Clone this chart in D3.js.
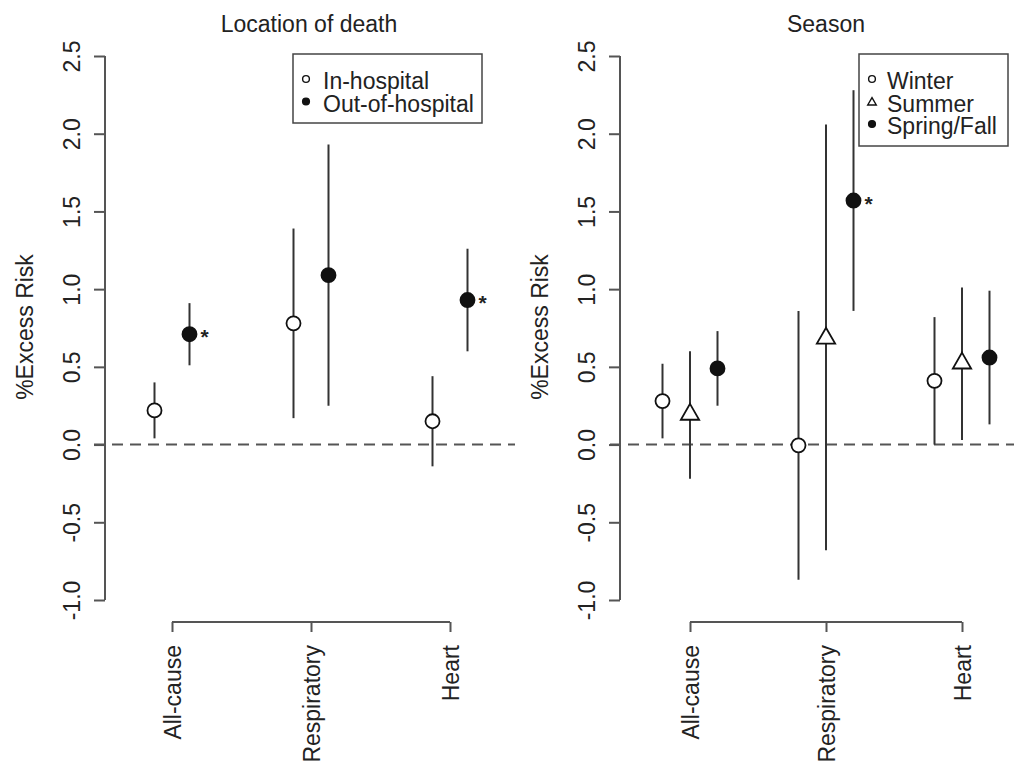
<!DOCTYPE html>
<html>
<head>
<meta charset="utf-8">
<script src="https://cdn.jsdelivr.net/npm/d3@7"></script>
<style>
  body { margin: 0; background: #fff; }
  text { font-family: "Liberation Sans", Arial, sans-serif; fill: #222; }
</style>
</head>
<body>
<div id="chart"></div>
<script>
// Datos
const categories = ["All-cause", "Respiratory", "Heart"];
const yTicks = [-1.0, -0.5, 0.0, 0.5, 1.0, 1.5, 2.0, 2.5];

// Panel 1: lugar de muerte
const locationGroups = ["In-hospital", "Out-of-hospital"];
const inHospEst = [0.22, 0.78, 0.15];
const inHospLo = [0.04, 0.17, -0.14];
const inHospHi = [0.40, 1.39, 0.44];
const outHospEst = [0.71, 1.09, 0.93];
const outHospLo = [0.51, 0.25, 0.60];
const outHospHi = [0.91, 1.93, 1.26];
const outHospSig = [true, false, true];

// Panel 2: estación
const seasonGroups = ["Winter", "Summer", "Spring/Fall"];
const winterEst = [0.28, -0.005, 0.41];
const winterLo = [0.04, -0.87, 0.0];
const winterHi = [0.52, 0.86, 0.82];
const summerEst = [0.20, 0.69, 0.53];
const summerLo = [-0.22, -0.68, 0.03];
const summerHi = [0.60, 2.06, 1.01];
const springEst = [0.49, 1.57, 0.56];
const springLo = [0.25, 0.86, 0.13];
const springHi = [0.73, 2.28, 0.99];
const springSig = [false, true, false];

const WIDTH = 1014;
const HEIGHT = 763;
const FONT = 23;

const svg = d3.select("#chart")
  .append("svg")
  .attr("width", WIDTH)
  .attr("height", HEIGHT);

const y = d3.scaleLinear().domain([-1, 2.5]).range([600, 56]);

function buildSeries(groups, est, lo, hi, sig, shape) {
  return groups.map((g, i) => ({
    group: g,
    shape: shape[i],
    points: categories.map((c, j) => ({
      cat: c, est: est[i][j], lo: lo[i][j], hi: hi[i][j], sig: sig[i] ? sig[i][j] : false
    }))
  }));
}

// dibuja el símbolo de cada serie (size = área en px²)
function symbol(sel, shape, size, sw) {
  if (shape === "triangle") {
    sel.append("path")
      .attr("d", d3.symbol().type(d3.symbolTriangle).size(size)())
      .attr("transform", "translate(0,1)")
      .attr("fill", "#fff").attr("stroke", "#111").attr("stroke-width", sw);
  } else {
    sel.append("circle")
      .attr("r", Math.sqrt(size / Math.PI))
      .attr("fill", shape === "filled" ? "#111" : "#fff")
      .attr("stroke", "#111").attr("stroke-width", sw);
  }
}

function drawPanel(cfg) {
  const g = svg.append("g");
  const x = d3.scalePoint().domain(categories).range(cfg.xRange);
  const off = d3.scalePoint().domain(cfg.series.map(s => s.group)).range([-cfg.spread, cfg.spread]);

  // titulo
  g.append("text")
    .attr("x", cfg.titleX).attr("y", 32)
    .attr("text-anchor", "middle")
    .style("font-size", FONT + "px")
    .text(cfg.title);

  // eje y
  const yAxis = g.append("g")
    .attr("transform", `translate(${cfg.axisX},0)`)
    .call(d3.axisLeft(y).tickValues(yTicks).tickSize(11).tickFormat(d => d.toFixed(1)));
  yAxis.select(".domain").attr("d", `M0,${y(-1)}V${y(2.5)}`);
  yAxis.selectAll("line, path").attr("stroke", "#555").attr("stroke-width", 2);
  yAxis.selectAll("text")
    .attr("transform", "translate(-33,0) rotate(-90)")
    .attr("x", 0).attr("y", 0).attr("dy", "0.35em")
    .attr("text-anchor", "middle")
    .style("font-size", FONT + "px")
    .style("font-family", "Liberation Sans, Arial, sans-serif")
    .attr("fill", "#222");

  g.append("text")
    .attr("transform", `translate(${cfg.yTitleX},327) rotate(-90)`)
    .attr("text-anchor", "middle")
    .attr("dy", "0.35em")
    .style("font-size", FONT + "px")
    .text("%Excess Risk");

  // eje x
  const xAxis = g.append("g")
    .attr("transform", "translate(0,622)")
    .call(d3.axisBottom(x).tickSize(10));
  xAxis.select(".domain").attr("d", `M${cfg.xRange[0]},0H${cfg.xRange[1]}`);
  xAxis.selectAll("line, path").attr("stroke", "#555").attr("stroke-width", 2);
  xAxis.selectAll("text")
    .attr("transform", "translate(0,23) rotate(-90)")
    .attr("x", 0).attr("y", 0).attr("dy", "0.35em")
    .attr("text-anchor", "end")
    .style("font-size", FONT + "px")
    .style("font-family", "Liberation Sans, Arial, sans-serif")
    .attr("fill", "#222");

  // linea de referencia
  g.append("line")
    .attr("x1", cfg.plotX[0]).attr("x2", cfg.plotX[1])
    .attr("y1", y(0)).attr("y2", y(0))
    .attr("stroke", "#555").attr("stroke-width", 2)
    .attr("stroke-dasharray", "11,7");

  // intervalos y puntos
  cfg.series.forEach(s => {
    const sg = g.append("g");
    const items = sg.selectAll("g.pt")
      .data(s.points)
      .join("g")
      .attr("class", "pt")
      .attr("transform", d => `translate(${x(d.cat) + off(s.group)},0)`);
    items.append("line")
      .attr("y1", d => y(d.lo)).attr("y2", d => y(d.hi))
      .attr("stroke", "#333").attr("stroke-width", 2);
    items.append("g")
      .attr("transform", d => `translate(0,${y(d.est)})`)
      .each(function() { symbol(d3.select(this), s.shape, s.shape === "triangle" ? 145 : 155, 1.8); });
    items.filter(d => d.sig)
      .append("text")
      .attr("x", 11).attr("y", d => y(d.est) + 10)
      .style("font-size", "21px")
      .style("font-weight", "bold")
      .text("*");
  });

  // leyenda
  const lg = g.append("g").attr("transform", `translate(${cfg.legend.x},${cfg.legend.y})`);
  lg.append("rect")
    .attr("width", cfg.legend.w).attr("height", cfg.legend.h)
    .attr("fill", "#fff").attr("stroke", "#444").attr("stroke-width", 1.5);
  cfg.series.forEach((s, i) => {
    const row = lg.append("g").attr("transform", `translate(0,${27 + i * 22.5})`);
    const sym = row.append("g").attr("transform", `translate(${cfg.legend.symX},-2)`);
    symbol(sym, s.shape, s.shape === "triangle" ? 32 : 36, 1.4);
    row.append("text")
      .attr("x", cfg.legend.textX).attr("dy", "0.35em")
      .style("font-size", FONT + "px")
      .text(s.group);
  });
}

drawPanel({
  title: "Location of death",
  titleX: 309,
  axisX: 105,
  yTitleX: 25,
  xRange: [172, 450],
  plotX: [94, 515],
  spread: 17.5,
  series: buildSeries(locationGroups,
    [inHospEst, outHospEst], [inHospLo, outHospLo], [inHospHi, outHospHi],
    [null, outHospSig], ["open", "filled"]),
  legend: { x: 293, y: 54, w: 189, h: 69, symX: 13, textX: 30 }
});

drawPanel({
  title: "Season",
  titleX: 826,
  axisX: 620,
  yTitleX: 540,
  xRange: [690, 962],
  plotX: [610, 1014],
  spread: 27.5,
  series: buildSeries(seasonGroups,
    [winterEst, summerEst, springEst], [winterLo, summerLo, springLo], [winterHi, summerHi, springHi],
    [null, null, springSig], ["open", "triangle", "filled"]),
  legend: { x: 859, y: 54, w: 149, h: 92, symX: 13, textX: 28 }
});
</script>
</body>
</html>
